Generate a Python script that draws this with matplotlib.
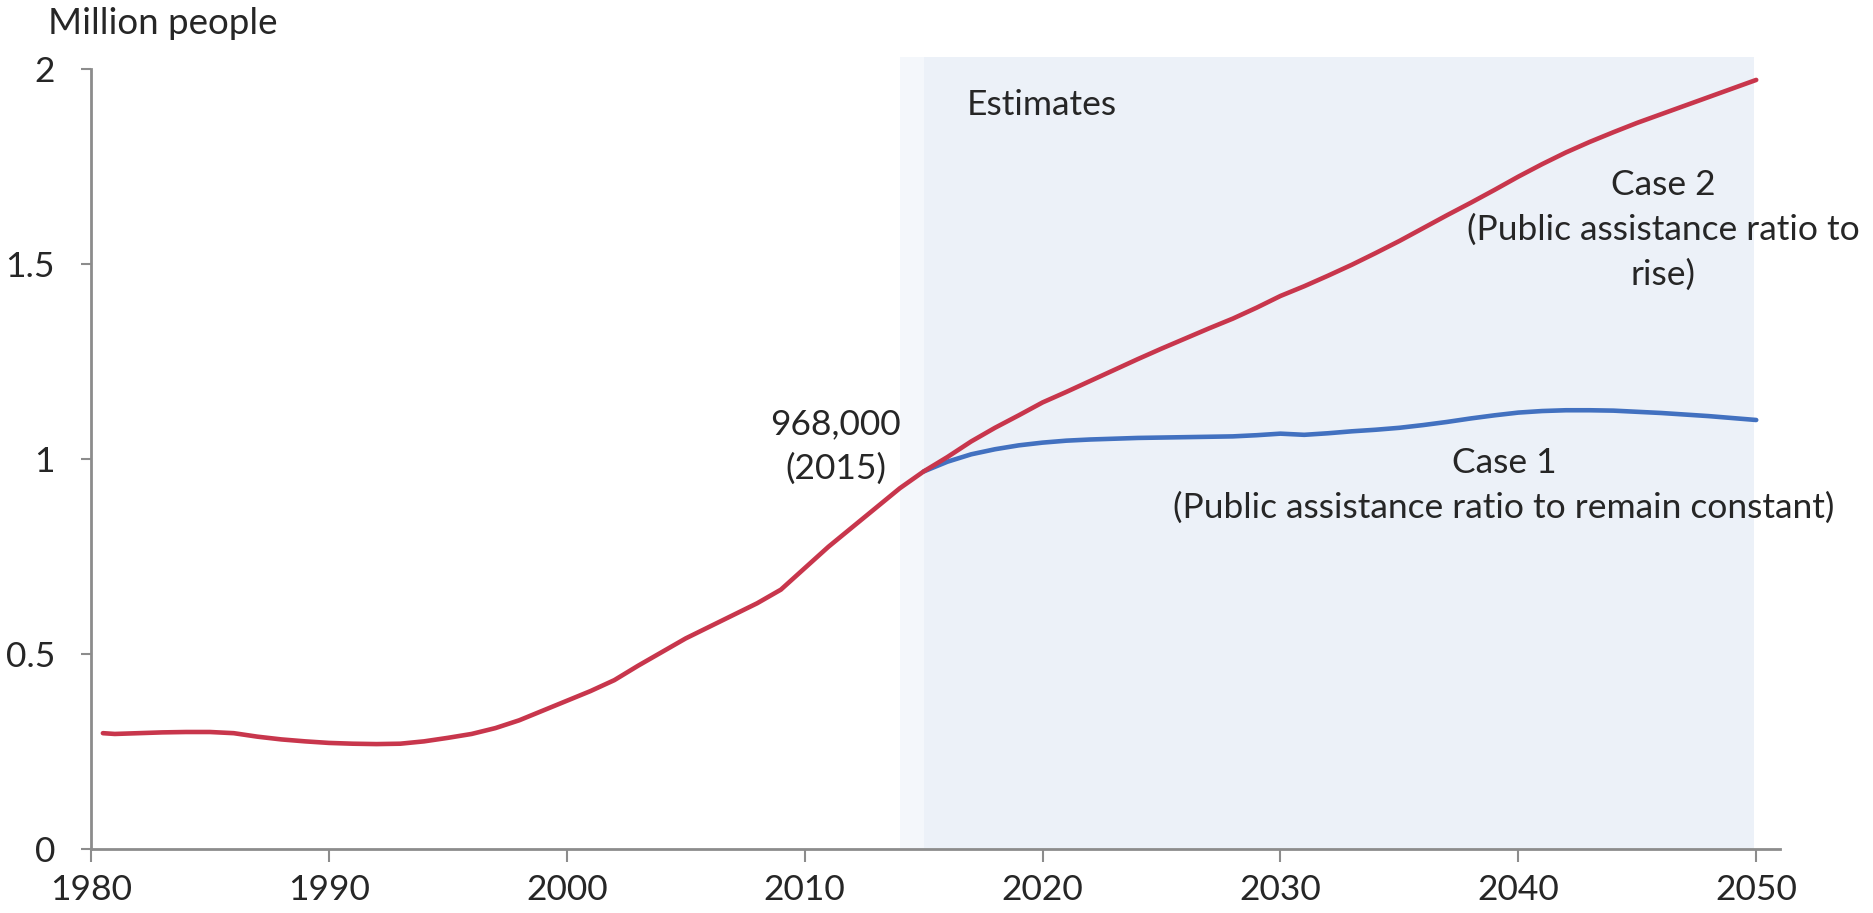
import matplotlib
matplotlib.use("Agg")
import matplotlib.pyplot as plt
from matplotlib.patches import Rectangle

# Public assistance recipients, million people
years_hist = [1980.5, 1981, 1982, 1983, 1984, 1985, 1986, 1987, 1988, 1989,
              1990, 1991, 1992, 1993, 1994, 1995, 1996, 1997, 1998, 1999,
              2000, 2001, 2002, 2003, 2004, 2005, 2006, 2007, 2008, 2009,
              2010, 2011, 2012, 2013, 2014, 2015]
values_hist = [0.297, 0.295, 0.297, 0.299, 0.300, 0.300, 0.297, 0.288, 0.281, 0.276,
               0.272, 0.270, 0.269, 0.270, 0.276, 0.285, 0.295, 0.310, 0.330, 0.355,
               0.380, 0.405, 0.433, 0.470, 0.505, 0.540, 0.570, 0.600, 0.630, 0.665,
               0.720, 0.775, 0.825, 0.875, 0.925, 0.968]

# Case 2: public assistance ratio rises
years_case2 = list(range(2015, 2051))
values_case2 = [0.968, 1.005, 1.045, 1.080, 1.112, 1.145, 1.172, 1.200, 1.228, 1.256,
                1.283, 1.309, 1.335, 1.360, 1.388, 1.418, 1.443, 1.470, 1.498, 1.528,
                1.559, 1.592, 1.625, 1.657, 1.690, 1.724, 1.756, 1.786, 1.813, 1.838,
                1.862, 1.884, 1.906, 1.928, 1.950, 1.972]

# Case 1: public assistance ratio held constant
years_case1 = list(range(2015, 2051))
values_case1 = [0.968, 0.993, 1.012, 1.025, 1.035, 1.042, 1.047, 1.050, 1.052, 1.054,
                1.055, 1.056, 1.057, 1.058, 1.061, 1.065, 1.062, 1.066, 1.071, 1.075,
                1.080, 1.087, 1.095, 1.104, 1.112, 1.119, 1.123, 1.125, 1.125, 1.124,
                1.121, 1.118, 1.114, 1.110, 1.105, 1.100]

x_ticks = [1980, 1990, 2000, 2010, 2020, 2030, 2040, 2050]
y_ticks = [0, 0.5, 1, 1.5, 2]
y_tick_labels = ["0", "0.5", "1", "1.5", "2"]

estimate_start, estimate_end = 2015.0, 2049.9

RED = "#C8364C"
BLUE = "#4271C0"
AXIS = "#8C8C8C"
SHADE = "#ECF1F8"
TEXT = "#262626"

plt.rcParams["font.family"] = ["Lato", "DejaVu Sans"]

W, H = 1873, 913
fig = plt.figure(figsize=(W / 100, H / 100), dpi=100)
ax = fig.add_axes([91 / W, (H - 849) / H, (1780 - 91) / W, (849 - 69) / H])
ax.set_xlim(1980, 2051)
ax.set_ylim(0, 2)

# shaded projection period, with a soft left edge
ax.add_patch(Rectangle((estimate_start - 1.0, 0), 1.0, 2.03, facecolor="#F4F7FB",
                       edgecolor="none", clip_on=False, zorder=0))
ax.add_patch(Rectangle((estimate_start, 0), estimate_end - estimate_start, 2.03,
                       facecolor=SHADE, edgecolor="none", clip_on=False, zorder=0))

ax.plot(years_case1, values_case1, color=BLUE, lw=3.3, solid_capstyle="round",
        solid_joinstyle="round", zorder=3)
ax.plot(years_hist + years_case2[1:], values_hist + values_case2[1:], color=RED, lw=3.3,
        solid_capstyle="round", solid_joinstyle="round", zorder=4)

for s in ["top", "right"]:
    ax.spines[s].set_visible(False)
for s in ["left", "bottom"]:
    ax.spines[s].set_color(AXIS)
    ax.spines[s].set_linewidth(2)

ax.set_xticks(x_ticks)
ax.set_xticklabels([str(v) for v in x_ticks])
ax.set_yticks(y_ticks)
ax.set_yticklabels(y_tick_labels)
ax.tick_params(axis="x", direction="out", length=9, width=1.5, color=AXIS, pad=9,
               labelsize=25.5, labelcolor=TEXT)
ax.tick_params(axis="y", direction="out", length=7, width=1.5, color=AXIS, pad=19,
               labelsize=25.5, labelcolor=TEXT)

fs = 25.5
ax.text(2016.8, 1.908, "Estimates", ha="left", va="center", fontsize=fs, color=TEXT)
ax.text(2011.3, 1.09, "968,000", ha="center", va="center", fontsize=fs, color=TEXT)
ax.text(2011.3, 0.974, "(2015)", ha="center", va="center", fontsize=fs, color=TEXT)
ax.text(2046.1, 1.703, "Case 2", ha="center", va="center", fontsize=fs, color=TEXT)
ax.text(2046.1, 1.587, "(Public assistance ratio to", ha="center", va="center",
        fontsize=fs, color=TEXT)
ax.text(2046.1, 1.472, "rise)", ha="center", va="center", fontsize=fs, color=TEXT)
ax.text(2039.4, 0.99, "Case 1", ha="center", va="center", fontsize=fs, color=TEXT)
ax.text(2039.4, 0.874, "(Public assistance ratio to remain constant)", ha="center",
        va="center", fontsize=fs, color=TEXT)

fig.text(48 / W, 1 - 24 / H, "Million people", ha="left", va="center", fontsize=26.5,
         color=TEXT)

fig.savefig("out.png", dpi=100, facecolor="white")
